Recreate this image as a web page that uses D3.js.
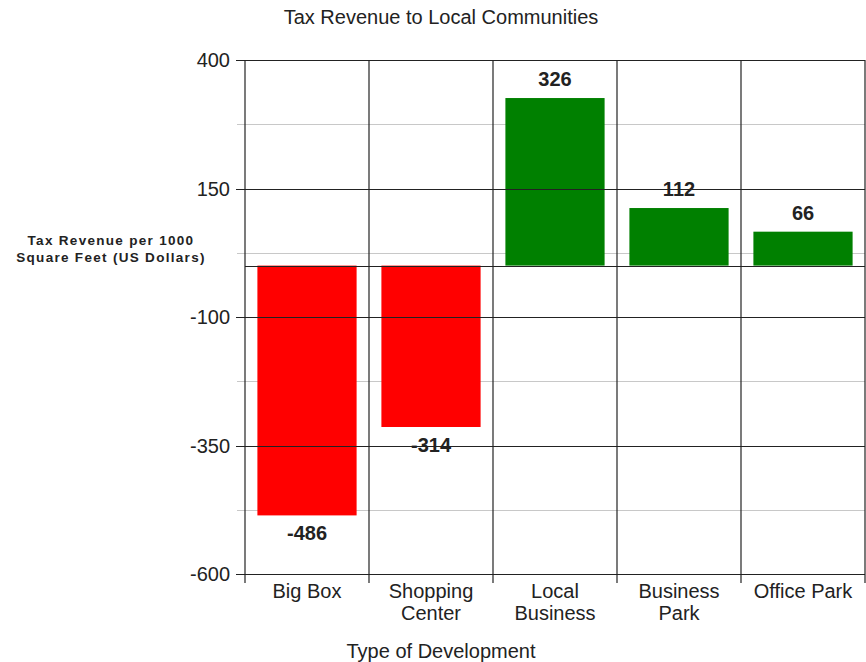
<!DOCTYPE html>
<html>
<head>
<meta charset="utf-8">
<script src="https://cdn.jsdelivr.net/npm/d3@7"></script>
<style>
  body { margin: 0; background: #fff; }
  text { font-family: "Liberation Sans", Arial, sans-serif; fill: #222; }
</style>
</head>
<body>
<div id="viz"></div>
<script>
// data
var categories = [["Big Box"], ["Shopping", "Center"], ["Local", "Business"], ["Business", "Park"], ["Office Park"]];
var values = [-486, -314, 326, 112, 66];
var majorTicks = [400, 150, -100, -350, -600];
var minorTicks = [275, 25, -225, -475];

var width = 866, height = 662;
var plotLeft = 245, plotRight = 865, plotTop = 60, plotBottom = 574;

var svg = d3.select("#viz")
  .append("svg")
  .attr("width", width)
  .attr("height", height);

var x = d3.scaleBand()
  .domain(d3.range(categories.length))
  .range([plotLeft, plotRight])
  .padding(0);

var y = d3.scaleLinear()
  .domain([-600, 400])
  .range([plotBottom, plotTop]);

// minor gridlines (light grey)
svg.selectAll("line.minor").data(minorTicks).enter()
  .append("line")
  .attr("x1", plotLeft - 8)
  .attr("x2", plotRight)
  .attr("y1", function(d) { return Math.round(y(d)) + 0.5; })
  .attr("y2", function(d) { return Math.round(y(d)) + 0.5; })
  .style("stroke", "#c8c8c8")
  .style("stroke-width", 1);

// bars
var bw = x.bandwidth() * 0.8;
svg.selectAll("rect.bar").data(values).enter()
  .append("rect")
  .attr("x", function(d, i) { return x(i) + (x.bandwidth() - bw) / 2; })
  .attr("y", function(d) { return y(Math.max(0, d)); })
  .attr("width", bw)
  .attr("height", function(d) { return Math.abs(y(d) - y(0)); })
  .style("fill", function(d) { return d < 0 ? "#ff0000" : "#008000"; });

// major gridlines (black), with tick marks to the left
svg.selectAll("line.major").data(majorTicks).enter()
  .append("line")
  .attr("x1", plotLeft - 9)
  .attr("x2", plotRight)
  .attr("y1", function(d) { return Math.round(y(d)) + 0.5; })
  .attr("y2", function(d) { return Math.round(y(d)) + 0.5; })
  .style("stroke", "#222")
  .style("stroke-width", 1.2);

// zero line
svg.append("line")
  .attr("x1", plotLeft)
  .attr("x2", plotRight)
  .attr("y1", Math.round(y(0)) + 0.5)
  .attr("y2", Math.round(y(0)) + 0.5)
  .style("stroke", "#222")
  .style("stroke-width", 1.2);

// vertical category separators, ticking below the axis
svg.selectAll("line.sep").data(d3.range(categories.length + 1)).enter()
  .append("line")
  .attr("x1", function(i) { return i < categories.length ? x(i) : plotRight; })
  .attr("x2", function(i) { return i < categories.length ? x(i) : plotRight; })
  .attr("y1", plotTop)
  .attr("y2", plotBottom + 9)
  .style("stroke", "#222")
  .style("stroke-width", 1.2);

// y tick labels
svg.selectAll("text.ytick").data(majorTicks).enter()
  .append("text")
  .attr("x", plotLeft - 15)
  .attr("y", function(d) { return y(d); })
  .attr("dy", "0.35em")
  .attr("text-anchor", "end")
  .style("font-size", "20px")
  .text(function(d) { return d; });

// x category labels
var xl = svg.selectAll("text.xtick").data(categories).enter()
  .append("text")
  .attr("text-anchor", "middle")
  .style("font-size", "20px");
xl.selectAll("tspan").data(function(d, i) { return d.map(function(s) { return {s: s, i: i}; }); })
  .enter().append("tspan")
  .attr("x", function(d) { return x(d.i) + x.bandwidth() / 2; })
  .attr("y", function(d, j) { return 598 + j * 22; })
  .text(function(d) { return d.s; });

// value labels
svg.selectAll("text.val").data(values).enter()
  .append("text")
  .attr("x", function(d, i) { return x(i) + x.bandwidth() / 2; })
  .attr("y", function(d) { return d < 0 ? y(d) + 25 : y(d) - 12; })
  .attr("text-anchor", "middle")
  .style("font-size", "20px")
  .style("font-weight", "bold")
  .text(function(d) { return d; });

// title
svg.append("text")
  .attr("x", 441)
  .attr("y", 24)
  .attr("text-anchor", "middle")
  .style("font-size", "20px")
  .text("Tax Revenue to Local Communities");

// x axis title
svg.append("text")
  .attr("x", 441)
  .attr("y", 658)
  .attr("text-anchor", "middle")
  .style("font-size", "20px")
  .text("Type of Development");

// y axis title
svg.append("text")
  .attr("text-anchor", "middle")
  .style("font-size", "13.5px")
  .style("font-weight", "bold")
  .style("letter-spacing", "1.3px")
  .selectAll("tspan").data(["Tax Revenue per 1000", "Square Feet (US Dollars)"]).enter()
  .append("tspan")
  .attr("x", 111)
  .attr("y", function(d, i) { return 245 + i * 17; })
  .text(function(d) { return d; });
</script>
</body>
</html>
